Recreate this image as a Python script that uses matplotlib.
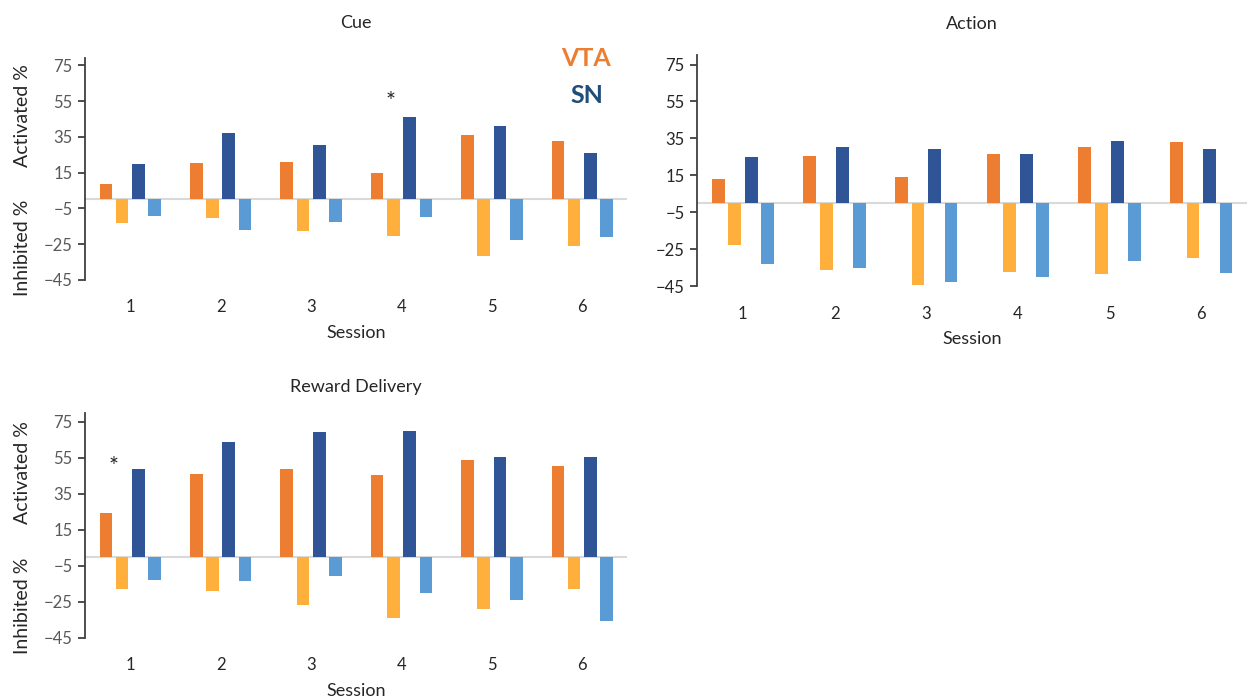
import numpy as np
import matplotlib
matplotlib.use("Agg")
import matplotlib.pyplot as plt
import matplotlib.transforms as mtransforms

plt.rcParams["font.family"] = ["Lato", "DejaVu Sans"]

sessions = [1, 2, 3, 4, 5, 6]

# % of neurons activated / inhibited per session
cue_vta_act = [8.6, 20.3, 20.7, 14.9, 36.3, 32.7]
cue_vta_inh = [-13.4, -10.6, -17.7, -20.5, -31.4, -25.9]
cue_sn_act = [19.9, 37.4, 30.7, 46.3, 40.9, 25.9]
cue_sn_inh = [-9.3, -17.1, -12.7, -10.0, -22.5, -20.8]

act_vta_act = [13.0, 25.5, 13.9, 26.8, 30.6, 33.0]
act_vta_inh = [-22.5, -36.3, -44.1, -37.5, -38.6, -29.7]
act_sn_act = [25.0, 30.4, 29.3, 26.5, 33.7, 29.2]
act_sn_inh = [-33.0, -35.0, -42.8, -40.1, -31.4, -37.9]

rew_vta_act = [24.3, 46.1, 49.1, 45.4, 53.8, 50.8]
rew_vta_inh = [-17.8, -18.9, -26.4, -33.8, -29.0, -17.8]
rew_sn_act = [49.1, 63.8, 69.2, 70.0, 55.8, 55.8]
rew_sn_inh = [-12.8, -13.5, -10.7, -20.2, -24.1, -35.3]

yticks = [75, 55, 35, 15, -5, -25, -45]

c_vta_act = "#ED7D31"
c_vta_inh = "#FFAF3C"
c_sn_act = "#2F5597"
c_sn_inh = "#5B9BD5"


def draw_panel(ax, title, vta_act, vta_inh, sn_act, sn_inh, top, tick_color,
               title_pad, ylabels=True):
    x = np.array(sessions, dtype=float)
    w = 0.14
    for off, vals, col in [(-0.27, vta_act, c_vta_act), (-0.09, vta_inh, c_vta_inh),
                           (0.09, sn_act, c_sn_act), (0.27, sn_inh, c_sn_inh)]:
        ax.bar(x + off, vals, width=w, color=col, zorder=3)
    ax.axhline(0, color="#d9d9d9", lw=1.5, zorder=1)
    ax.set_xlim(0.5, 6.5)
    ax.set_ylim(-45, top)
    ax.set_yticks(yticks)
    ax.set_xticks(sessions)
    for s in ["top", "right", "bottom"]:
        ax.spines[s].set_visible(False)
    ax.spines["left"].set_color("#404040")
    ax.spines["left"].set_linewidth(1.3)
    ax.tick_params(axis="y", length=5, width=1.3, color="#404040", labelsize=12,
                   labelcolor=tick_color, pad=4)
    ax.tick_params(axis="x", length=0, labelsize=12, labelcolor="#262626", pad=14)
    ax.set_xlabel("Session", fontsize=13, labelpad=7, color="#262626")
    ax.set_title(title, fontsize=13, color="#262626", pad=title_pad)
    if ylabels:
        tr = mtransforms.blended_transform_factory(ax.transAxes, ax.transData)
        ax.text(-0.116, 47, "Activated %", rotation=90, fontsize=14, ha="center",
                va="center", transform=tr, color="#262626")
        ax.text(-0.116, -27, "Inhibited %", rotation=90, fontsize=14, ha="center",
                va="center", transform=tr, color="#262626")


fig = plt.figure(figsize=(12.47, 7.0), dpi=100)

ax_cue = fig.add_axes([0.0682, 0.600, 0.435, 0.317])
draw_panel(ax_cue, "Cue", cue_vta_act, cue_vta_inh, cue_sn_act, cue_sn_inh, 79, "#595959",
           title_pad=22)
ax_cue.text(3.88, 55, "*", fontsize=17, ha="center", va="center", color="#262626")
ax_cue.text(0.923, 1.0, "VTA", transform=ax_cue.transAxes, fontsize=18, fontweight="bold",
            color=c_vta_act, ha="center", va="center")
ax_cue.text(0.925, 0.83, "SN", transform=ax_cue.transAxes, fontsize=18, fontweight="bold",
            color="#1F4E79", ha="center", va="center")

ax_act = fig.add_axes([0.559, 0.591, 0.441, 0.330])
draw_panel(ax_act, "Action", act_vta_act, act_vta_inh, act_sn_act, act_sn_inh, 80, "#262626",
           title_pad=19, ylabels=False)

ax_rew = fig.add_axes([0.0682, 0.0886, 0.435, 0.3214])
draw_panel(ax_rew, "Reward Delivery", rew_vta_act, rew_vta_inh, rew_sn_act, rew_sn_inh, 80,
           "#595959", title_pad=15)
ax_rew.text(0.81, 50, "*", fontsize=17, ha="center", va="center", color="#262626")

fig.savefig("out.png", dpi=100)
